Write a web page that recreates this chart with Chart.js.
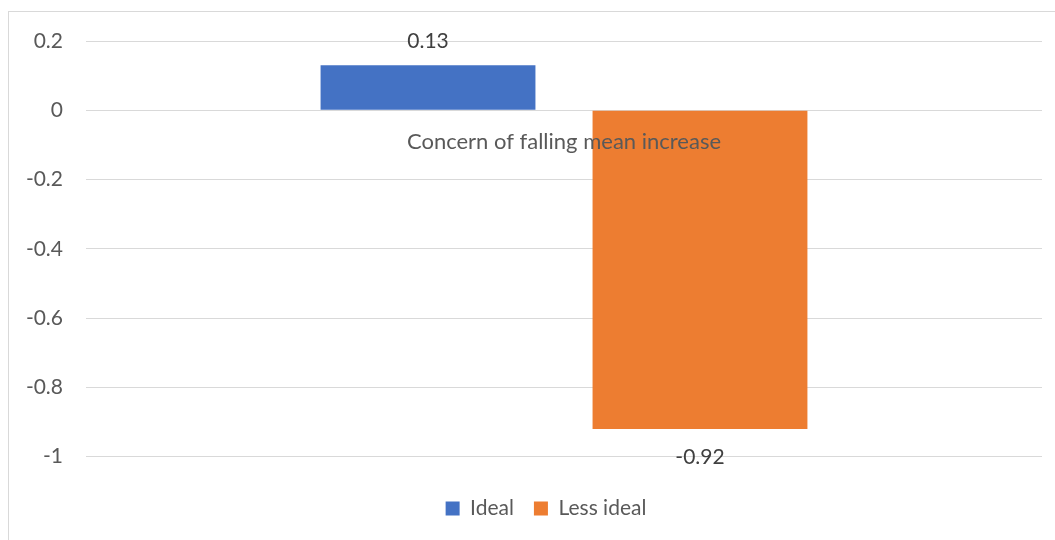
<!DOCTYPE html>
<html>
<head>
<meta charset="utf-8">
<script src="https://cdn.jsdelivr.net/npm/chart.js@4/dist/chart.umd.min.js"></script>
<style>
  html, body { margin: 0; padding: 0; background: #fff; }
  #wrap { position: relative; width: 1055px; height: 540px; }
  #frame {
    position: absolute; left: 8px; top: 11px; width: 1100px; height: 600px;
    border-left: 1px solid #d9d9d9; border-top: 1px solid #d9d9d9;
    pointer-events: none;
  }
</style>
</head>
<body>
<div id="wrap">
  <canvas id="chart"></canvas>
  <div id="frame"></div>
</div>
<script>
// Datos
const categories = ['Concern of falling mean increase'];
const seriesNames = ['Ideal', 'Less ideal'];
const idealValues = [0.13];
const lessIdealValues = [-0.92];
const yTicks = [0.2, 0, -0.2, -0.4, -0.6, -0.8, -1];

const FONT = 'Lato, "Noto Sans", sans-serif';
const GRAY = '#595959';

// Etiquetas de valor fuera del extremo de cada barra
const valueLabels = {
  id: 'valueLabels',
  afterDraw(chart) {
    const ctx = chart.ctx;
    ctx.save();
    ctx.font = '21px ' + FONT;
    ctx.fillStyle = '#404040';
    ctx.textAlign = 'center';
    ctx.textBaseline = 'alphabetic';
    chart.data.datasets.forEach((ds, i) => {
      const meta = chart.getDatasetMeta(i);
      meta.data.forEach((bar, j) => {
        const v = ds.data[j];
        const y = v >= 0 ? bar.y - 17 : bar.y + 35;
        ctx.fillText(String(v), bar.x, y);
      });
    });
    ctx.restore();
  }
};

// La caja del grafico original es mas ancha que el lienzo: se corre la leyenda
const legendShift = {
  id: 'legendShift',
  afterLayout(chart) {
    const lg = chart.legend;
    if (!lg) return;
    lg.left += 25;
    lg.right += 25;
  }
};

const ctx = document.getElementById('chart').getContext('2d');
new Chart(ctx, {
  type: 'bar',
  data: {
    labels: categories,
    datasets: [
      { label: seriesNames[0], data: idealValues, backgroundColor: '#4472C4' },
      { label: seriesNames[1], data: lessIdealValues, backgroundColor: '#ED7D31' }
    ]
  },
  options: {
    responsive: true,
    maintainAspectRatio: false,
    animation: false,
    layout: { padding: { left: 0, right: 13, top: 41, bottom: 11 } },
    datasets: { bar: { barPercentage: 0.79, categoryPercentage: 0.569 } },
    scales: {
      x: {
        position: { y: 0 },
        grid: { display: false, drawTicks: false },
        border: { display: false },
        ticks: {
          z: 1, // el texto de la categoria va encima de las barras
          color: GRAY,
          font: { family: FONT, size: 22 },
          padding: 18
        }
      },
      y: {
        min: -1,
        max: 0.2,
        afterBuildTicks(scale) {
          scale.ticks = yTicks.map(v => ({ value: v }));
        },
        afterFit(scale) { scale.width = 86; },
        grid: { color: '#d9d9d9', lineWidth: 1, drawTicks: false },
        border: { display: false },
        ticks: {
          color: GRAY,
          font: { family: FONT, size: 21 },
          padding: 23,
          callback: v => String(v)
        }
      }
    },
    plugins: {
      legend: {
        position: 'bottom',
        // titulo vacio: solo reserva hueco entre el area y la leyenda
        title: { display: true, text: '', padding: { top: 0, bottom: 7 } },
        labels: {
          color: GRAY,
          font: { family: FONT, size: 21 },
          boxWidth: 14,
          boxHeight: 14,
          padding: 20
        }
      },
      tooltip: { enabled: false }
    }
  },
  plugins: [valueLabels, legendShift]
});
</script>
</body>
</html>
